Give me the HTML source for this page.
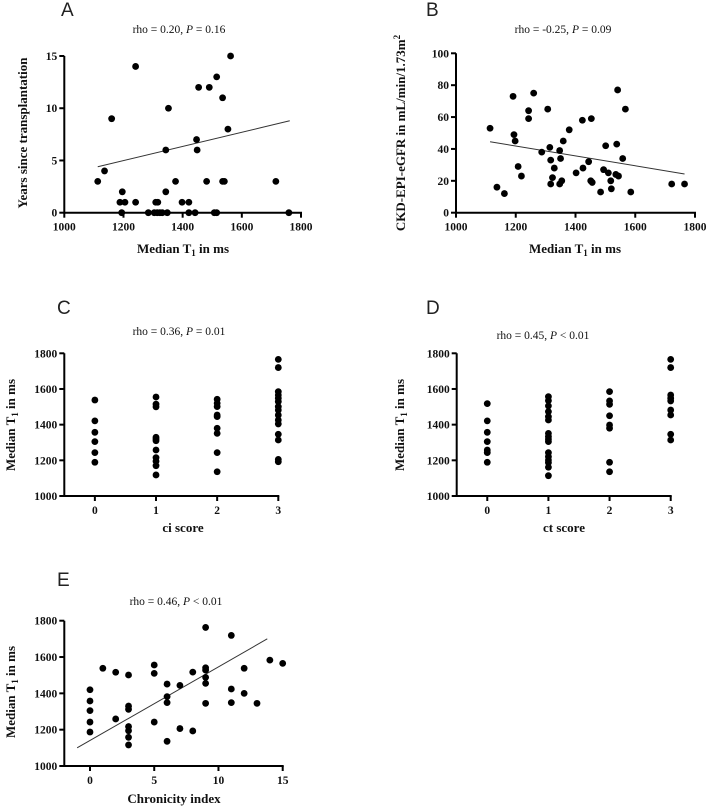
<!DOCTYPE html>
<html><head><meta charset="utf-8">
<style>
html,body{margin:0;padding:0;background:#fff;}
svg{display:block;}
.tk{font-family:"Liberation Serif",serif;font-weight:bold;font-size:11.5px;fill:#111;}
.at{font-family:"Liberation Serif",serif;font-weight:bold;font-size:13px;fill:#111;}
.tt{font-family:"Liberation Serif",serif;font-size:11.5px;fill:#111;}
.pl{font-family:"Liberation Sans",sans-serif;font-size:19px;fill:#222;}
</style></head>
<body>
<svg id="fig" width="708" height="807" viewBox="0 0 708 807" xmlns="http://www.w3.org/2000/svg"></svg>
<script>
// Panel A: Years since transplantation vs Median T1
const aX = [1113,1136,1160,1188,1205,1196,1194,1241,1241,1284,1304,1314,1323,1331,1348,1309,1316,1343,1343,1352,1376,1398,1421,1421,1442,1447,1449,1454,1490,1481,1507,1515,1515,1535,1535,1541,1553,1562,1715,1759];
const aY = [3,4,9,1,1,2,0,14,1,0,0,0,0,0,0,1,1,2,6,10,3,1,1,0,0,7,6,12,12,3,0,0,13,11,3,3,8,15,3,0];
const aLine = [[1113,4.4],[1762,8.8]];
const aXTicks = [1000,1200,1400,1600,1800];
const aYTicks = [0,5,10,15];

// Panel B: eGFR vs Median T1
const bX = [1114,1137,1162,1191,1194,1198,1208,1219,1243,1243,1260,1287,1307,1314,1317,1317,1323,1329,1347,1350,1347,1354,1359,1379,1402,1423,1425,1444,1453,1451,1456,1484,1494,1501,1510,1518,1520,1535,1538,1541,1544,1558,1567,1585,1722,1765];
const bY = [53,16,12,73,49,45,29,23,64,59,75,38,65,41,33,18,22,28,39,34,18,20,45,52,25,58,28,32,59,20,19,13,27,42,25,20,15,24,43,77,23,34,65,13,18,18];
const bLine = [[1114,44.5],[1765,24.3]];
const bXTicks = [1000,1200,1400,1600,1800];
const bYTicks = [0,20,40,60,80,100];

// Panel C: Median T1 by ci score
const cCat = [0,0,0,0,0,0, 1,1,1,1,1,1,1,1,1,1,1, 2,2,2,2,2,2,2,2,2, 3,3,3,3,3,3,3,3,3,3,3,3,3,3,3];
const cVal = [1538,1421,1357,1305,1243,1189, 1555,1515,1500,1329,1320,1310,1258,1215,1195,1170,1118, 1542,1520,1501,1454,1445,1380,1351,1243,1136, 1766,1720,1585,1566,1548,1529,1501,1482,1454,1426,1404,1346,1314,1205,1192];
const cXTicks = [0,1,2,3];
const cYTicks = [1000,1200,1400,1600,1800];

// Panel D: Median T1 by ct score
const dCat = [0,0,0,0,0,0,0, 1,1,1,1,1,1,1,1,1,1,1,1,1,1,1,1, 2,2,2,2,2,2,2,2, 3,3,3,3,3,3,3,3,3];
const dVal = [1518,1421,1357,1305,1258,1243,1189, 1557,1535,1505,1473,1445,1426,1351,1333,1318,1305,1243,1221,1202,1187,1161,1114, 1585,1533,1514,1450,1398,1380,1189,1136, 1766,1720,1566,1548,1533,1482,1454,1346,1314];
const dXTicks = [0,1,2,3];
const dYTicks = [1000,1200,1400,1600,1800];

// Panel E: Median T1 vs Chronicity index
const eX = [0,0,0,0,0,1,2,2,3,3,3,3,3,3,3,5,5,5,6,6,6,6,7,7,8,8,9,9,9,9,9,9,11,11,11,12,12,13,14,15];
const eY = [1420,1358,1305,1242,1187,1538,1516,1259,1501,1330,1312,1217,1194,1158,1116,1556,1510,1242,1451,1382,1349,1136,1444,1206,1517,1193,1763,1541,1528,1488,1455,1345,1719,1424,1349,1538,1400,1345,1583,1565];
const eLine = [[-1,1100],[13.8,1700]];
const eXTicks = [0,5,10,15];
const eYTicks = [1000,1200,1400,1600,1800];

const NS = "http://www.w3.org/2000/svg";
const fig = document.getElementById('fig');
function mk(tag, attrs, parent, text){
  const e = document.createElementNS(NS, tag);
  for (const k in attrs) e.setAttribute(k, attrs[k]);
  if (text !== undefined) e.textContent = text;
  (parent || fig).appendChild(e);
  return e;
}

function panel(cfg){
  const g = mk('g', {});
  
  
  const sx = v => cfg.px0 + (v - cfg.x0) / (cfg.x1 - cfg.x0) * (cfg.px1 - cfg.px0);
  const sy = v => cfg.py0 + (v - cfg.y0) / (cfg.y1 - cfg.y0) * (cfg.py1 - cfg.py0);
  // panel letter
  const L = mk('text', {x: cfg.lx, y: cfg.ly, class: 'pl'}, g, cfg.letter);
  
  
  // title
  const T = mk('text', {x: cfg.tx, y: cfg.ty, class: 'tt', 'text-anchor': 'middle'}, g);
  
  
  mk('tspan', {}, T, cfg.t1);
  mk('tspan', {'font-style': 'italic'}, T, 'P');
  mk('tspan', {}, T, cfg.t2);
  // axes
  const ax = mk('g', {}, g);
  
  
  mk('line', {x1: cfg.px0, y1: cfg.py0, x2: cfg.px1 + 1, y2: cfg.py0, stroke: '#000', 'stroke-width': 2}, ax);
  mk('line', {x1: cfg.px0, y1: cfg.py0 + 1, x2: cfg.px0, y2: cfg.py1, stroke: '#000', 'stroke-width': 2}, ax);
  cfg.xt.forEach(v => {
    const x = sx(v);
    mk('line', {x1: x, y1: cfg.py0, x2: x, y2: cfg.py0 + 5, stroke: '#000', 'stroke-width': 2}, ax);
    const t = mk('text', {x: x, y: cfg.py0 + 18, class: 'tk', 'text-anchor': 'middle'}, ax, v);
    
    
  });
  cfg.yt.forEach(v => {
    const y = sy(v);
    mk('line', {x1: cfg.px0 - 5, y1: y, x2: cfg.px0, y2: y, stroke: '#000', 'stroke-width': 2}, ax);
    const t = mk('text', {x: cfg.px0 - 7, y: y + 4, class: 'tk', 'text-anchor': 'end'}, ax, v);
    
    
  });
  // x title
  const XT = mk('text', {x: cfg.xtx, y: cfg.xty, class: 'at', 'text-anchor': 'middle'}, g);
  
  
  cfg.xtitle(XT);
  // y title
  const YT = mk('text', {x: 0, y: 0, class: 'at', 'text-anchor': 'middle', transform: 'translate(' + cfg.ytx + ',' + cfg.yty + ') rotate(-90)'}, g);
  
  
  cfg.ytitle(YT);
  // regression line
  if (cfg.line){
    const ln = mk('line', {x1: sx(cfg.line[0][0]), y1: sy(cfg.line[0][1]), x2: sx(cfg.line[1][0]), y2: sy(cfg.line[1][1]), stroke: '#333', 'stroke-width': 1}, g);
    
    
  }
  // points
  cfg.xs.forEach((xv, i) => {
    const c = mk('circle', {cx: sx(xv), cy: sy(cfg.ys[i]), r: 3.4, fill: '#000'}, g);
    
    
  });
}

function t1(el, pre){ mk('tspan', {}, el, pre); mk('tspan', {dy: 3, 'font-size': '9px'}, el, '1'); mk('tspan', {dy: -3}, el, ' in ms'); }

panel({id:'a', letter:'A', lx:61, ly:16, tx:179, ty:33, t1:'rho = 0.20, ', t2:' = 0.16',
  x0:1000, x1:1800, px0:64.3, px1:301, y0:0, y1:15, py0:212.7, py1:56,
  xt:aXTicks, yt:aYTicks, xs:aX, ys:aY, line:aLine,
  xtx:183, xty:253, ytx:27, yty:133,
  xtitle: el => t1(el, 'Median  T'), ytitle: el => { el.textContent = 'Years since transplantation'; }});

panel({id:'b', letter:'B', lx:426, ly:16, tx:563, ty:33, t1:'rho = -0.25, ', t2:' = 0.09',
  x0:1000, x1:1800, px0:456, px1:695, y0:0, y1:100, py0:212.7, py1:53.3,
  xt:bXTicks, yt:bYTicks, xs:bX, ys:bY, line:bLine,
  xtx:575, xty:253, ytx:405, yty:133,
  xtitle: el => t1(el, 'Median T'),
  ytitle: el => { mk('tspan', {}, el, 'CKD-EPI-eGFR in mL/min/1.73m'); mk('tspan', {dy:-5, 'font-size':'9px'}, el, '2'); }});

panel({id:'c', letter:'C', lx:57, ly:314, tx:179, ty:335, t1:'rho = 0.36, ', t2:' = 0.01',
  x0:-0.5, x1:3, px0:64.3, px1:278.3, y0:1000, y1:1800, py0:496, py1:353.3,
  xt:cXTicks, yt:cYTicks, xs:cCat, ys:cVal, line:null,
  xtx:183, xty:532, ytx:15, yty:425,
  xtitle: el => { el.textContent = 'ci score'; }, ytitle: el => t1(el, 'Median  T')});

panel({id:'d', letter:'D', lx:426, ly:314, tx:543, ty:339, t1:'rho = 0.45, ', t2:' < 0.01',
  x0:-0.5, x1:3, px0:456.7, px1:670.7, y0:1000, y1:1800, py0:496, py1:353.3,
  xt:dXTicks, yt:dYTicks, xs:dCat, ys:dVal, line:null,
  xtx:564, xty:532, ytx:404, yty:425,
  xtitle: el => { el.textContent = 'ct score'; }, ytitle: el => t1(el, 'Median  T')});

panel({id:'e', letter:'E', lx:57, ly:586, tx:176, ty:605, t1:'rho = 0.46, ', t2:' < 0.01',
  x0:-2, x1:15, px0:64.3, px1:282.7, y0:1000, y1:1800, py0:766, py1:620.7,
  xt:eXTicks, yt:eYTicks, xs:eX, ys:eY, line:eLine,
  xtx:174, xty:803, ytx:15, yty:692,
  xtitle: el => { el.textContent = 'Chronicity index'; }, ytitle: el => t1(el, 'Median  T')});
</script>
</body></html>
